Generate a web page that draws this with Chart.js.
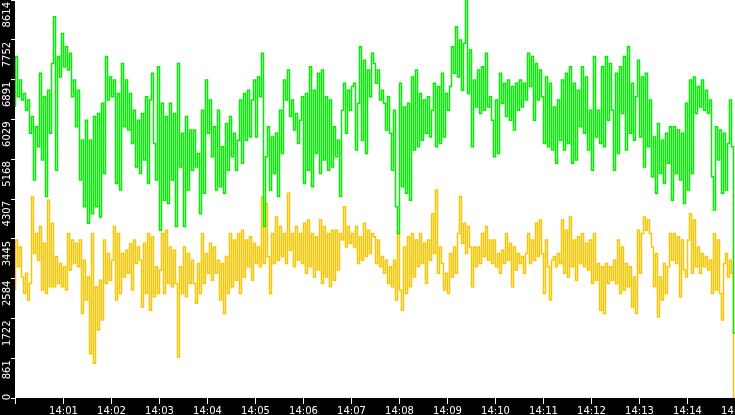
<!DOCTYPE html>
<html>
<head>
<meta charset="utf-8">
<script src="https://cdn.jsdelivr.net/npm/chart.js@4/dist/chart.umd.min.js"></script>
<style>
  html, body { margin: 0; padding: 0; background: #000; }
  #wrap { width: 735px; height: 415px; }
</style>
</head>
<body>
<div id="wrap"><canvas id="chart" width="735" height="415"></canvas></div>
<script>
// one sample every 2.5 s, 14:00 -> 14:15
const sampleSeconds = 2.5;

const yTickValues = [0, 861, 1722, 2584, 3445, 4307, 5168, 6029, 6891, 7752, 8614];
const xTickLabels = ['14:00', '14:01', '14:02', '14:03', '14:04', '14:05', '14:06', '14:07',
                     '14:08', '14:09', '14:10', '14:11', '14:12', '14:13', '14:14', '14:15'];

const seriesGreen = [
  6300, 7390, 6520, 6880, 6450, 6590, 6230, 6450, 5730, 6090,
  4720, 5870, 5440, 7030, 5150, 6520, 4360, 6660, 5730, 7240,
  8250, 4930, 7390, 6950, 7890, 7170, 7600, 7100, 7460, 6520,
  6880, 5870, 6660, 4720, 5580, 4140, 6010, 3780, 5580, 3990,
  6090, 4140, 6160, 3920, 6380, 4860, 7390, 6450, 6950, 6520,
  6880, 4640, 6590, 4500, 7240, 5870, 6880, 5800, 6590, 5510,
  6230, 5000, 6010, 4860, 6160, 5150, 6520, 4640, 6450, 7030,
  5510, 4720, 7170, 3630, 6380, 4280, 6090, 4210, 6380, 4720,
  6160, 3710, 7240, 5000, 5730, 3710, 6090, 4500, 5800, 4930,

  5800, 5000, 5290, 3990, 6230, 4430, 6880, 5730, 6450, 5220,
  5870, 4500, 6230, 4570, 5440, 4430, 5940, 4930, 6090, 5220,
  5730, 4930, 5580, 6450, 5080, 6590, 5580, 6660, 5650, 6450,
  6880, 5650, 6950, 6520, 7460, 3710, 5220, 5870, 4500, 5650,
  4860, 5730, 4360, 6230, 5290, 6880, 6450, 7100, 6090, 6450,
  5800, 6160, 5510, 6010, 6520, 4640, 6590, 4930, 7170, 4570,
  6660, 5290, 7030, 4860, 7100, 5150, 6520, 4930, 6450, 5000,
  5870, 5220, 5580, 4360, 6230, 6810, 5730, 6660, 6230, 6740,
  6810, 5370, 6380, 7600, 5580, 7310, 5290, 7100, 6520, 7460,

  7240, 6810, 7100, 6450, 6660, 6380, 5800, 6520, 5730, 4930,
  6230, 4140, 3560, 6810, 4570, 6300, 4430, 6380, 4280, 6950,
  5370, 7100, 5440, 6590, 5580, 6450, 5730, 6520, 5650, 6230,
  6810, 5440, 6740, 5510, 7030, 5650, 6590, 6230, 6740, 7600,
  7030, 8035, 6950, 7750, 6660, 7680, 8614, 6590, 7530, 5440,
  6880, 6300, 7100, 6160, 7170, 6230, 7460, 6300, 6520, 6010,
  5220, 6450, 5290, 7030, 6380, 6810, 6090, 6880, 6010, 6740,
  5800, 6810, 6230, 6880, 6300, 6810, 6450, 7460, 6740, 7390,
  6010, 7240, 6450, 7100, 6520, 5510, 6950, 5440, 6810, 5370,

  6300, 5080, 6450, 5580, 6880, 5370, 7030, 5510, 7170, 5080,
  6810, 5150, 6660, 5870, 7170, 5730, 6950, 5370, 6230, 4930,
  7390, 5650, 6230, 5510, 7170, 5440, 7390, 6010, 7240, 6230,
  4930, 7030, 5290, 7170, 6160, 7390, 5370, 7600, 5730, 6810,
  5580, 6520, 7310, 5650, 6950, 5000, 7030, 5440, 6450, 4790,
  5650, 4430, 5940, 4860, 5580, 4640, 5730, 5080, 5870, 4280,
  5870, 4860, 5800, 4720, 5730, 4210, 6380, 4500, 6880, 4860,
  6950, 6160, 6740, 6300, 6880, 6230, 6660, 6160, 6450, 4790,
  4070, 5870, 5150, 5800, 4430, 5730, 4500, 5510, 6450, 5440,
  1400
];

const seriesYellow = [
  2340, 3420, 2840, 3270, 2620, 2260, 2700, 2120, 2480, 4350,
  3130, 3560, 2980, 3710, 2340, 3350, 2260, 4280, 2410, 3780,
  2410, 3060, 2480, 2910, 2410, 2840, 2340, 3560, 2770, 3420,
  2910, 3350, 2840, 3420, 1830, 2980, 2120, 2620, 960, 3560,
  750, 2410, 1470, 2550, 1690, 3420, 2480, 3130, 2550, 2980,
  3710, 2120, 3560, 2260, 3130, 2620, 3200, 2700, 3340, 2340,
  3420, 2910, 3270, 2980, 1970, 3350, 2260, 3560, 1900, 3490,
  2190, 2840, 2260, 2770, 3560, 2260, 3630, 2480, 3270, 2410,
  3200, 2480, 890, 2840, 2260, 3270, 2190, 3130, 2480, 2980,

  2480, 2050, 2910, 2260, 3560, 2480, 3130, 2700, 3350, 2550,
  3270, 2700, 2980, 2120, 2910, 1830, 3060, 2260, 3560, 2410,
  3420, 2550, 3560, 2260, 3630, 2620, 3420, 2840, 3490, 2550,
  3350, 2910, 3270, 2840, 4350, 2910, 4210, 3060, 2260, 3560,
  2910, 3920, 2980, 3710, 3060, 3560, 2910, 4430, 3200, 3560,
  2840, 3710, 2980, 3560, 2910, 3780, 2700, 3850, 2840, 3560,
  2620, 3490, 2770, 3850, 2480, 3710, 2620, 3560, 2410, 3630,
  2550, 3630, 2770, 3560, 3420, 4140, 3270, 3710, 3350, 3560,
  3270, 3710, 2910, 3490, 2980, 3780, 3060, 3630, 3130, 3560,

  3490, 2910, 3420, 2840, 3060, 2700, 2980, 2480, 2840, 2410,
  2980, 2120, 3560, 2340, 1900, 3270, 2260, 3490, 2410, 3560,
  2620, 3420, 2840, 3560, 2910, 3350, 2480, 3420, 2980, 3990,
  3130, 4500, 2700, 3270, 2910, 2340, 2700, 2260, 3130, 2620,
  3270, 2700, 3560, 4360, 3350, 3780, 3130, 3710, 3270, 2410,
  3270, 2840, 3270, 2910, 3560, 3060, 3710, 2980, 3420, 2910,
  3420, 2840, 3130, 2700, 3200, 2910, 3560, 2980, 3350, 2410,
  3270, 2770, 3130, 2910, 3060, 2700, 3130, 3560, 2910, 3420,
  2980, 3780, 3060, 3850, 3130, 2260, 3420, 2840, 2120, 2980,

  3060, 2840, 3130, 2910, 3850, 2700, 3630, 2620, 3920, 2840,
  3420, 2550, 3490, 2910, 3560, 2840, 3350, 2770, 3420, 2480,
  3560, 2550, 2910, 1900, 2840, 1830, 2910, 2480, 2840, 2550,
  2980, 2480, 3420, 2260, 3270, 2340, 2910, 2410, 2840, 1970,
  2620, 1830, 3630, 2700, 3560, 3920, 3630, 3850, 3560, 3270,
  2410, 3130, 1760, 2620, 2120, 2910, 2260, 2840, 3560, 2980,
  3560, 2910, 3490, 2190, 3420, 2770, 2620, 3420, 3990, 2700,
  3850, 2840, 3270, 2700, 3130, 2840, 3060, 2770, 2980, 2260,
  3560, 2340, 3420, 2260, 1690, 2910, 3130, 2620, 2980, 2700,
  0
];

function toPoints(values) {
  return values.map((v, i) => ({ x: i * sampleSeconds, y: v }));
}

const FONT = '"DejaVu Sans", sans-serif';
const spanSeconds = (xTickLabels.length - 1) * 60;
// half a pixel of time so vertical strokes are centred on pixel columns
const halfPixel = spanSeconds / 720 / 2;

// black frame + white plot area, rotated y labels
const framePlugin = {
  id: 'frame',
  beforeDraw(chart) {
    const { ctx, chartArea: a } = chart;
    ctx.save();
    ctx.fillStyle = '#000';
    ctx.fillRect(0, 0, chart.width, chart.height);
    ctx.fillStyle = '#fff';
    ctx.fillRect(a.left, a.top, a.right - a.left, a.bottom - a.top);
    ctx.restore();
  },
  afterDraw(chart) {
    const { ctx } = chart;
    const y = chart.scales.y;
    ctx.save();
    ctx.fillStyle = '#fff';
    ctx.font = '10px ' + FONT;
    ctx.textBaseline = 'alphabetic';
    yTickValues.forEach(v => {
      const py = y.getPixelForValue(v);
      ctx.save();
      if (v === 0) {
        ctx.translate(9.5, py - 1);
        ctx.textAlign = 'center';
      } else {
        ctx.translate(9.5, py + 2);
        ctx.textAlign = 'right';
      }
      ctx.rotate(-Math.PI / 2);
      ctx.fillText(String(v), 0, 0);
      ctx.restore();
    });
    ctx.restore();
  }
};

new Chart(document.getElementById('chart'), {
  type: 'line',
  data: {
    datasets: [
      {
        label: 'Series 1',
        data: toPoints(seriesGreen),
        borderColor: '#00f000',
        borderWidth: 1.5,
        pointRadius: 0,
        stepped: 'after',
        fill: false,
      },
      {
        label: 'Series 2',
        data: toPoints(seriesYellow),
        borderColor: '#ffc400',
        borderWidth: 1.5,
        pointRadius: 0,
        stepped: 'after',
        fill: false,
      }
    ]
  },
  options: {
    responsive: false,
    devicePixelRatio: 1,
    animation: false,
    layout: { padding: 0 },
    plugins: {
      legend: { display: false },
      tooltip: { enabled: false },
    },
    scales: {
      x: {
        type: 'linear',
        min: -halfPixel,
        max: spanSeconds - halfPixel,
        afterBuildTicks: s => { s.ticks = xTickLabels.map((_, i) => ({ value: i * 60 })); },
        afterFit: s => { s.height = 17; s.paddingLeft = 0; s.paddingRight = 0; },
        ticks: {
          color: '#fff',
          font: { family: FONT, size: 10 },
          padding: 1,
          maxRotation: 0,
          minRotation: 0,
          autoSkip: false,
          callback: (v, i) => (i === 0 ? '' : xTickLabels[i]),
        },
        grid: { drawOnChartArea: false, drawTicks: true, tickLength: 6, color: '#fff' },
        border: { display: false },
      },
      y: {
        min: 0,
        max: yTickValues[yTickValues.length - 1],
        afterBuildTicks: s => { s.ticks = yTickValues.map(v => ({ value: v })); },
        afterFit: s => { s.width = 15; s.paddingTop = 0; s.paddingBottom = 0; },
        ticks: { display: false },
        grid: { drawOnChartArea: false, drawTicks: true, tickLength: 4, color: '#fff' },
        border: { display: false },
      }
    }
  },
  plugins: [framePlugin]
});
</script>
</body>
</html>
